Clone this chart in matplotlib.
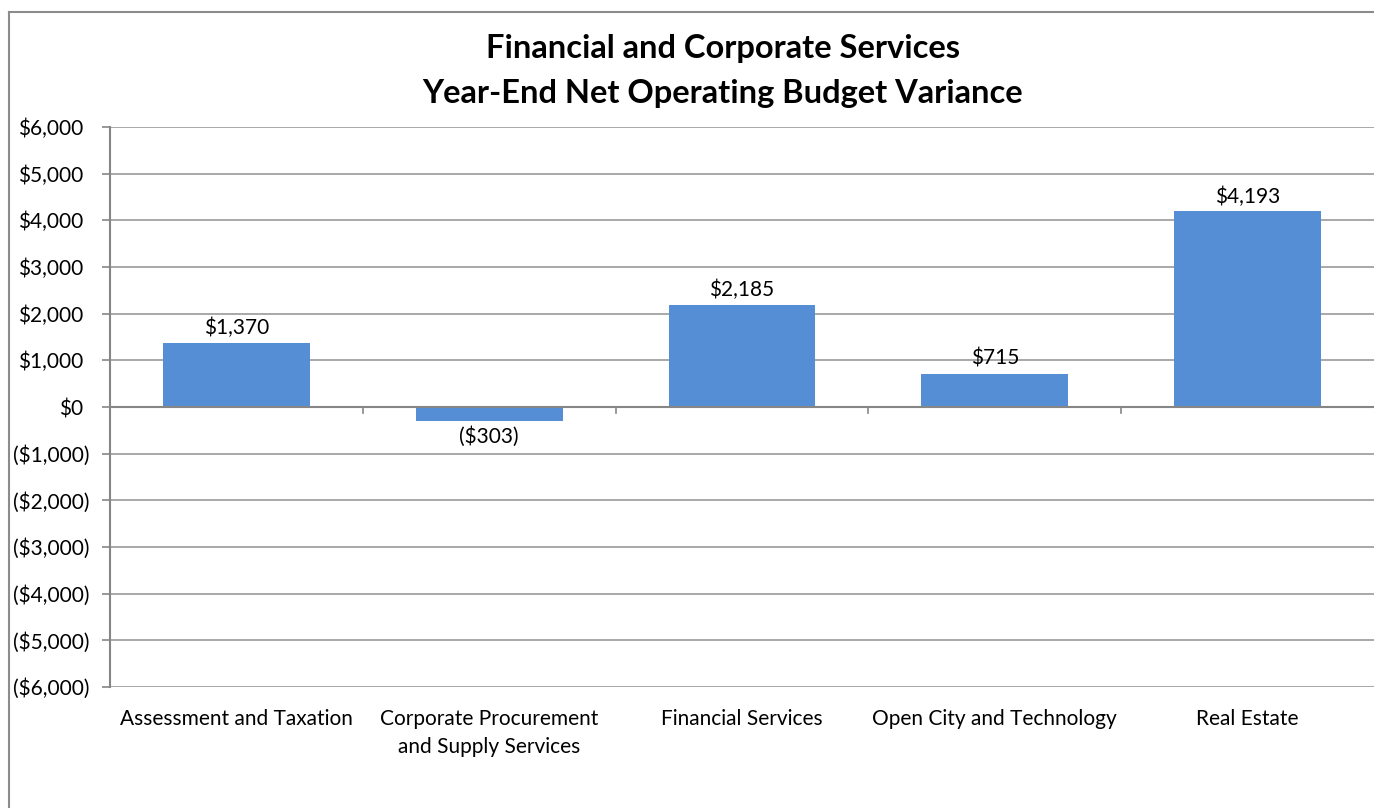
import matplotlib.pyplot as plt
from matplotlib.lines import Line2D

plt.rcParams['font.family'] = ['Lato', 'DejaVu Sans']

# Divisions and their year-end variance (thousands of dollars)
divisions = ['Assessment and Taxation',
             'Corporate Procurement\nand Supply Services',
             'Financial Services',
             'Open City and Technology',
             'Real Estate']
variance = [1370, -303, 2185, 715, 4193]
y_ticks = list(range(-6000, 6001, 1000))


def money(v):
    s = '${:,.0f}'.format(abs(v))
    return '({})'.format(s) if v < 0 else s


fig = plt.figure(figsize=(13.74, 8.08), dpi=100)
ax = fig.add_axes([110 / 1374, 121 / 808, 1264 / 1374, 560 / 808])

x = list(range(len(divisions)))
ax.bar(x, variance, width=0.58, color='#558ED5', zorder=3)

for xi, v in zip(x, variance):
    if v >= 0:
        ax.text(xi, v + 100, money(v), ha='center', va='bottom', fontsize=15)
    else:
        ax.text(xi, v - 110, money(v), ha='center', va='top', fontsize=15)

ax.set_xlim(-0.5, len(divisions) - 0.5)
ax.set_ylim(-6000, 6000)
ax.set_yticks(y_ticks)
ax.set_yticklabels([])
ax.yaxis.grid(True, color='#9A9A9A', linewidth=1.2, zorder=0)
ax.tick_params(axis='y', length=6, width=1.2, color='#868686')

# accounting-style labels: positives leave room for the closing paren
for t in y_ticks:
    off = -21 if t < 0 else -27
    ax.annotate(money(t), xy=(0, t), xycoords=('axes fraction', 'data'),
                xytext=(off, 0), textcoords='offset pixels',
                ha='right', va='center_baseline', fontsize=15,
                annotation_clip=False)

ax.set_xticks(x)
ax.set_xticklabels(divisions, fontsize=15, linespacing=1.5)
ax.tick_params(axis='x', length=0, pad=16)
# category separators on the zero line
for b in [i + 0.5 for i in x[:-1]]:
    ax.plot([b, b], [0, -130], color='#868686', linewidth=1.2, zorder=4,
            clip_on=False)
ax.axhline(0, color='#868686', linewidth=1.5, zorder=4)

for side in ['top', 'right', 'bottom']:
    ax.spines[side].set_visible(False)
ax.spines['left'].set_color('#868686')
ax.spines['left'].set_linewidth(1.5)

fig.text(723 / 1374, 1 - 71 / 808,
         'Financial and Corporate Services\nYear-End Net Operating Budget Variance',
         ha='center', va='center', fontsize=23.5, fontweight='bold',
         linespacing=1.68)

# chart frame
fig.add_artist(Line2D([9 / 1374, 1], [1 - 12 / 808, 1 - 12 / 808],
                      color='#8C8C8C', linewidth=1.5))
fig.add_artist(Line2D([9 / 1374, 9 / 1374], [0, 1 - 12 / 808],
                      color='#8C8C8C', linewidth=1.5))

fig.savefig('out.png', dpi=100)
